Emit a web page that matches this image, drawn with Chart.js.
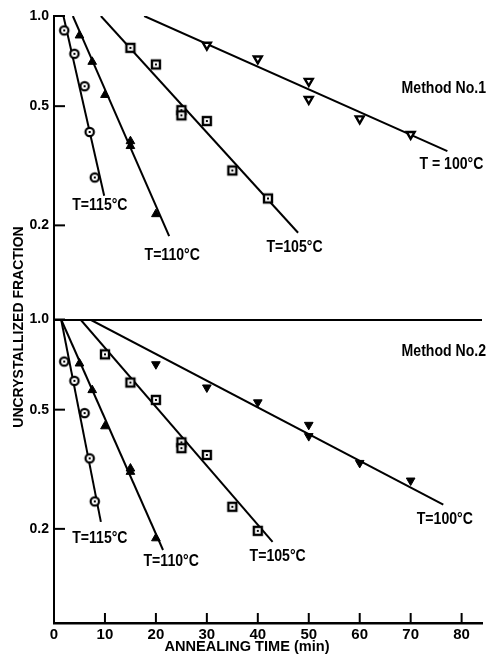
<!DOCTYPE html>
<html>
<head>
<meta charset="utf-8">
<script src="https://cdn.jsdelivr.net/npm/chart.js@4"></script>
<style>
  html, body { margin: 0; padding: 0; background: #fff; }
  canvas { display: block; }
</style>
</head>
<body>
<canvas id="crystal" width="489" height="655"></canvas>
<script>
// annealing times (min)
const times115 = [2, 4, 6, 7, 8];
const times110 = [5, 7.5, 10, 15, 15, 20];
const times105m1 = [15, 20, 25, 25, 30, 35, 42];
const times105m2 = [10, 15, 20, 25, 25, 30, 35, 40];
const times100m1 = [30, 40, 50, 50, 60, 70];
const times100m2 = [20, 30, 40, 50, 50, 60, 70];

// uncrystallized fraction, method no. 1
const m1_115 = [0.895, 0.748, 0.583, 0.410, 0.289];
const m1_110 = [0.861, 0.703, 0.545, 0.382, 0.368, 0.218];
const m1_105 = [0.783, 0.689, 0.485, 0.466, 0.446, 0.305, 0.246];
const m1_100 = [0.80, 0.72, 0.606, 0.527, 0.454, 0.403];

// uncrystallized fraction, method no. 2
const m2_115 = [0.724, 0.624, 0.487, 0.344, 0.247];
const m2_110 = [0.713, 0.581, 0.440, 0.318, 0.310, 0.186];
const m2_105 = [0.765, 0.616, 0.539, 0.389, 0.372, 0.353, 0.237, 0.197];
const m2_100 = [0.709, 0.593, 0.529, 0.445, 0.408, 0.332, 0.290];

// straight fits, [time, fraction] at each end
const fitM1_115 = [[1.85, 1.0], [9.85, 0.251]];
const fitM1_110 = [[3.7, 1.0], [22.6, 0.184]];
const fitM1_105 = [[9.2, 1.0], [47.9, 0.189]];
const fitM1_100 = [[17.7, 1.0], [77.2, 0.354]];
const fitM2_115 = [[1.4, 1.0], [9.2, 0.211]];
const fitM2_110 = [[1.4, 1.0], [21.4, 0.170]];
const fitM2_105 = [[5.2, 1.0], [42.9, 0.181]];
const fitM2_100 = [[7.1, 1.0], [76.4, 0.241]];

const xTicks = [0, 10, 20, 30, 40, 50, 60, 70, 80];
const yTicks = [1.0, 0.5, 0.2];

const pts = (xs, ys) => xs.map((x, i) => ({x: x, y: ys[i]}));
const seg = f => f.map(p => ({x: p[0], y: p[1]}));

// marker images: open circle / square with a dot in the middle
function marker(draw) {
  const c = document.createElement('canvas');
  c.width = 14; c.height = 14;
  draw(c.getContext('2d'));
  return c;
}
const circleDot = marker(g => {
  g.lineWidth = 2.2; g.strokeStyle = '#000'; g.fillStyle = '#fff';
  g.beginPath(); g.arc(7, 7, 4.2, 0, Math.PI * 2); g.fill(); g.stroke();
  g.fillStyle = '#000'; g.fillRect(6, 6, 2, 2);
});
const squareDot = marker(g => {
  g.lineWidth = 2.4; g.strokeStyle = '#000'; g.fillStyle = '#fff';
  g.fillRect(3, 3, 8, 8); g.strokeRect(3, 3, 8, 8);
  g.fillStyle = '#000'; g.fillRect(6, 6, 2, 2);
});

function markers(data, yAxisID, style, opts) {
  return Object.assign({
    data: data, yAxisID: yAxisID, showLine: false, order: 0,
    pointStyle: style, rotation: 0, pointRadius: 5,
    backgroundColor: '#000', borderColor: '#000', borderWidth: 1
  }, opts || {});
}
function fitLine(data, yAxisID) {
  return {
    data: data, yAxisID: yAxisID, showLine: true, order: 1,
    pointRadius: 0, borderColor: '#000', borderWidth: 2
  };
}

const font = "'Liberation Sans', Arial, sans-serif";

// text placed in data coordinates of each panel
const notes = [
  {text: 'Method No.1', axis: 'yTop', x: 84.8, y: 0.573, align: 'right'},
  {text: 'T=115°C', axis: 'yTop', x: 9.0, y: 0.232},
  {text: 'T=110°C', axis: 'yTop', x: 23.2, y: 0.158},
  {text: 'T=105°C', axis: 'yTop', x: 47.2, y: 0.169},
  {text: 'T = 100°C', axis: 'yTop', x: 78.0, y: 0.320},
  {text: 'Method No.2', axis: 'yBottom', x: 84.8, y: 0.782, align: 'right'},
  {text: 'T=115°C', axis: 'yBottom', x: 9.0, y: 0.185},
  {text: 'T=110°C', axis: 'yBottom', x: 23.0, y: 0.155},
  {text: 'T=105°C', axis: 'yBottom', x: 43.9, y: 0.161},
  {text: 'T=100°C', axis: 'yBottom', x: 76.7, y: 0.215}
];

// condensed bold text, like the lettering of the figure
function squeezed(ctx, text, x, y, align, sx) {
  ctx.save();
  ctx.translate(x, y);
  ctx.scale(sx, 1);
  ctx.textAlign = align;
  ctx.fillText(text, 0, 0);
  ctx.restore();
}

const decorations = {
  id: 'decorations',
  afterDraw(chart) {
    const {ctx, scales} = chart;
    const xs = scales.x;
    ctx.save();
    ctx.strokeStyle = '#000';
    ctx.fillStyle = '#000';
    ctx.lineWidth = 2;
    // inward tick marks
    ['yTop', 'yBottom'].forEach(id => {
      const s = scales[id];
      yTicks.forEach(v => {
        const py = s.getPixelForValue(v);
        ctx.beginPath(); ctx.moveTo(s.right, py); ctx.lineTo(s.right + 11, py); ctx.stroke();
      });
    });
    xTicks.slice(1).forEach(v => {
      const px = xs.getPixelForValue(v);
      ctx.beginPath(); ctx.moveTo(px, xs.top); ctx.lineTo(px, xs.top - 10); ctx.stroke();
    });
    // annotations
    ctx.font = 'bold 16px ' + font;
    ctx.textBaseline = 'middle';
    notes.forEach(n => {
      squeezed(ctx, n.text, xs.getPixelForValue(n.x), scales[n.axis].getPixelForValue(n.y), n.align || 'center', 0.88);
    });
    // axis titles
    ctx.font = 'bold 14px ' + font;
    squeezed(ctx, 'ANNEALING TIME (min)', 247, 647, 'center', 1.04);
    ctx.translate(19, 327);
    ctx.rotate(-Math.PI / 2);
    squeezed(ctx, 'UNCRYSTALLIZED FRACTION', 0, 0, 'center', 1.0);
    ctx.restore();
  }
};

function yScale(gridLine) {
  return {
    type: 'logarithmic', position: 'left', stack: 'panels', stackWeight: 1,
    min: 0.097, max: 1.0,
    afterBuildTicks: s => { s.ticks = yTicks.map(v => ({value: v})); },
    afterFit: s => { s.width = 54; },
    border: {display: true, color: '#000', width: 2},
    grid: {
      drawTicks: false,
      lineWidth: 2,
      color: c => (gridLine && c.tick && c.tick.value === 1) ? '#000' : 'rgba(0,0,0,0)'
    },
    ticks: {
      padding: 5, color: '#000',
      font: {family: font, size: 14, weight: 'bold'},
      callback: v => Number(v).toFixed(1)
    }
  };
}

new Chart(document.getElementById('crystal'), {
  type: 'scatter',
  data: {
    datasets: [
      markers(pts(times115, m1_115), 'yTop', circleDot),
      markers(pts(times110, m1_110), 'yTop', 'triangle'),
      markers(pts(times105m1, m1_105), 'yTop', squareDot),
      markers(pts(times100m1, m1_100), 'yTop', 'triangle', {rotation: 180, backgroundColor: '#fff', borderWidth: 2.4, pointRadius: 4.6}),
      markers(pts(times115, m2_115), 'yBottom', circleDot),
      markers(pts(times110, m2_110), 'yBottom', 'triangle'),
      markers(pts(times105m2, m2_105), 'yBottom', squareDot),
      markers(pts(times100m2, m2_100), 'yBottom', 'triangle', {rotation: 180}),
      fitLine(seg(fitM1_115), 'yTop'),
      fitLine(seg(fitM1_110), 'yTop'),
      fitLine(seg(fitM1_105), 'yTop'),
      fitLine(seg(fitM1_100), 'yTop'),
      fitLine(seg(fitM2_115), 'yBottom'),
      fitLine(seg(fitM2_110), 'yBottom'),
      fitLine(seg(fitM2_105), 'yBottom'),
      fitLine(seg(fitM2_100), 'yBottom')
    ]
  },
  options: {
    responsive: false,
    animation: false,
    layout: {padding: {top: 16, right: 3, left: 0, bottom: 0}},
    plugins: {legend: {display: false}, tooltip: {enabled: false}},
    scales: {
      x: {
        type: 'linear', min: 0, max: 84,
        afterBuildTicks: s => { s.ticks = xTicks.map(v => ({value: v})); },
        afterFit: s => { s.height = 32; },
        border: {display: true, color: '#000', width: 2.5},
        grid: {display: false, drawTicks: false},
        ticks: {padding: 3, color: '#000', maxRotation: 0, font: {family: font, size: 15, weight: 'bold'}}
      },
      yBottom: yScale(true),
      yTop: yScale(false)
    }
  },
  plugins: [decorations]
});
</script>
</body>
</html>
